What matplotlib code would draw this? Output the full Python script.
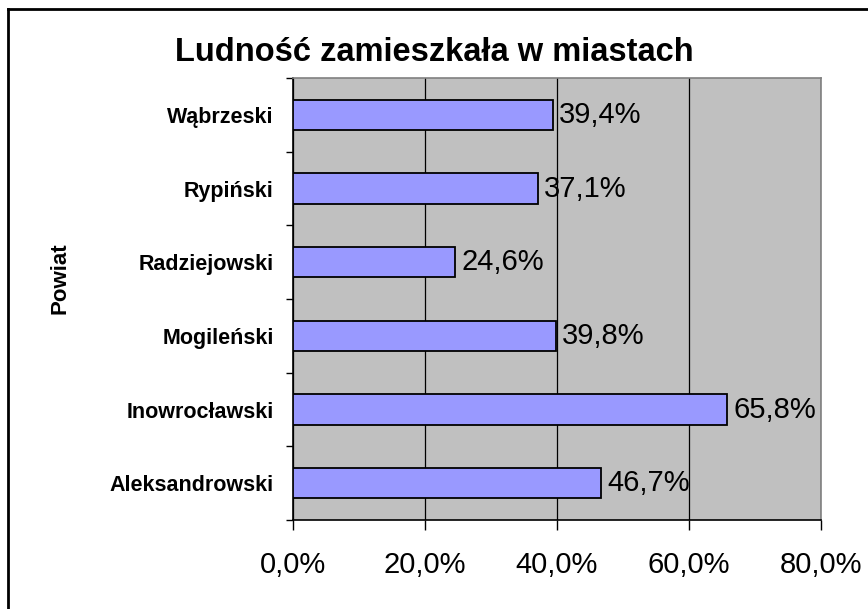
import matplotlib.pyplot as plt
from matplotlib.ticker import FixedLocator, FuncFormatter
from matplotlib.lines import Line2D

plt.rcParams["font.family"] = ["Liberation Sans", "DejaVu Sans"]

# dane: od dołu do góry
powiaty = ["Aleksandrowski", "Inowrocławski", "Mogileński",
           "Radziejowski", "Rypiński", "Wąbrzeski"]
udzial = [46.7, 65.8, 39.8, 24.6, 37.1, 39.4]
x_ticks = [0, 20, 40, 60, 80]


def fmt_pct(value):
    return f"{value:.1f}%".replace(".", ",")


fig = plt.figure(figsize=(8.68, 6.09), dpi=100)
ax = fig.add_axes([0.3376, 0.1461, 0.6083, 0.7258])
ax.set_facecolor("#C0C0C0")

positions = list(range(len(powiaty)))
ax.barh(positions, udzial, height=0.41, color="#9999FF",
        edgecolor="black", linewidth=1.3, zorder=3)

for pos, value in zip(positions, udzial):
    ax.text(value + 0.9, pos, fmt_pct(value), va="center", ha="left",
            fontsize=21, zorder=4)

ax.set_xlim(0, 80)
ax.set_ylim(-0.5, len(powiaty) - 0.5)
ax.set_xticks(x_ticks)
ax.xaxis.set_major_formatter(FuncFormatter(lambda v, p: fmt_pct(v)))
ax.tick_params(axis="x", direction="out", length=7, width=1,
               labelsize=21, pad=15)
ax.grid(axis="x", color="black", linewidth=0.9, zorder=1)

ax.set_yticks(positions)
ax.set_yticklabels(powiaty, fontweight="bold", fontsize=15.5)
ax.yaxis.set_minor_locator(FixedLocator([p - 0.5 for p in positions] + [len(powiaty) - 0.5]))
ax.tick_params(axis="y", which="major", length=0, pad=14)
ax.tick_params(axis="y", which="minor", direction="out", length=5, width=1)

ax.spines["left"].set_color("black")
ax.spines["bottom"].set_color("black")
ax.spines["top"].set_color("#808080")
ax.spines["right"].set_color("#808080")
for s in ax.spines.values():
    s.set_linewidth(1.2)

fig.text(0.069, 0.543, "Powiat", rotation=90, ha="center", va="center",
         fontsize=16, fontweight="bold")
fig.text(0.5, 0.914, "Ludność zamieszkała w miastach", ha="center",
         va="center", fontsize=23.5, fontweight="bold")

# ramka wykresu (prawa i dolna krawędź poza obrazkiem)
fig.add_artist(Line2D([0.0095, 0.0095], [0, 0.986], color="black",
                      linewidth=2, transform=fig.transFigure))
fig.add_artist(Line2D([0.0095, 1], [0.986, 0.986], color="black",
                      linewidth=2, transform=fig.transFigure))

fig.savefig("out.png", dpi=100)
